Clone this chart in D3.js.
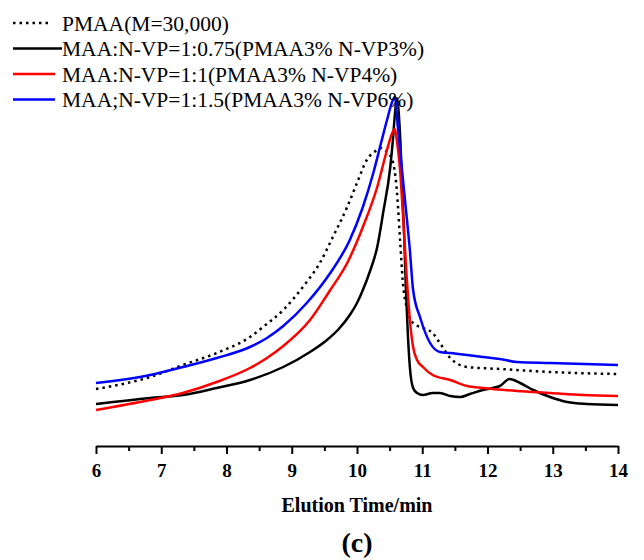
<!DOCTYPE html>
<html>
<head>
<meta charset="utf-8">
<script src="https://cdn.jsdelivr.net/npm/d3@7"></script>
<style>
  body { margin: 0; background: #fff; }
  svg { display: block; }
</style>
</head>
<body>
<svg id="chart"></svg>
<script>
// elution time (min) and detector response (arbitrary units)
var pmaaT = [6.00, 6.83, 7.33, 7.85, 8.36, 8.56, 8.87, 9.17, 9.43, 9.63, 9.85, 10.00, 10.15, 10.31, 10.37, 10.43, 10.54, 10.61, 10.66, 10.70, 10.77, 10.86, 11.01, 11.16, 11.27, 11.43, 11.69, 12.19, 12.96, 14.00];
var pmaaV = [57, 69, 81, 93, 109, 119, 136, 159, 183, 209, 239, 263, 286, 296, 298, 296, 286, 256, 206, 166, 136, 123, 118, 113, 103, 88, 79, 77, 74, 72];

var blackT = [6.00, 6.83, 7.33, 7.85, 8.36, 8.87, 9.28, 9.54, 9.72, 9.89, 10.00, 10.09, 10.20, 10.31, 10.40, 10.51, 10.55, 10.58, 10.61, 10.66, 10.70, 10.72, 10.75, 10.78, 10.81, 10.86, 10.92, 11.01, 11.16, 11.27, 11.43, 11.58, 11.73, 11.93, 12.08, 12.19, 12.34, 12.50, 12.70, 12.96, 13.22, 13.52, 14.00];
var blackV = [42, 48, 51, 58, 66, 79, 94, 106, 117, 131, 143, 156, 175, 199, 233, 279, 306, 331, 348, 311, 246, 216, 156, 111, 79, 58, 53, 51, 53, 53, 50, 49, 52, 56, 58, 60, 67, 63, 56, 49, 44, 42, 41];

var redT = [6.00, 6.83, 7.33, 7.85, 8.36, 8.62, 8.87, 9.28, 9.59, 9.85, 10.09, 10.31, 10.46, 10.54, 10.58, 10.61, 10.66, 10.70, 10.75, 10.81, 10.86, 10.92, 11.01, 11.16, 11.43, 11.69, 11.93, 12.45, 12.96, 13.46, 14.00];
var redV = [36, 46, 53, 64, 78, 88, 100, 126, 156, 183, 219, 259, 296, 313, 317, 306, 276, 236, 181, 126, 99, 86, 79, 71, 66, 60, 58, 55, 53, 51, 50];

var blueT = [6.00, 6.83, 7.33, 7.85, 8.36, 8.62, 8.87, 9.23, 9.59, 9.89, 10.09, 10.25, 10.38, 10.46, 10.55, 10.58, 10.63, 10.69, 10.74, 10.81, 10.86, 10.97, 11.12, 11.27, 11.43, 11.69, 11.93, 12.19, 12.45, 12.96, 14.00];
var blueV = [63, 71, 79, 88, 99, 108, 120, 143, 173, 206, 239, 273, 306, 326, 346, 349, 316, 276, 243, 196, 156, 128, 103, 94, 93, 91, 89, 87, 84, 83, 81];

var seriesNames = [
  "PMAA(M=30,000)",
  "MAA:N-VP=1:0.75(PMAA3% N-VP3%)",
  "MAA:N-VP=1:1(PMAA3% N-VP4%)",
  "MAA;N-VP=1:1.5(PMAA3% N-VP6%)"
];
var majorTicks = [6, 7, 8, 9, 10, 11, 12, 13, 14];
var minorTicks = [6.5, 7.5, 8.5, 9.5, 10.5, 11.5, 12.5, 13.5];

var serif = "Liberation Serif";
var width = 644, height = 560;
var svg = d3.select("#chart").attr("width", width).attr("height", height);

var x = d3.scaleLinear().domain([6, 14]).range([96, 618]);
var y = d3.scaleLinear().domain([0, 350]).range([446, 96]);

function zip(ts, vs) {
  return ts.map(function(t, i) { return {t: t, v: vs[i]}; });
}

var series = [
  {name: seriesNames[0], data: zip(pmaaT, pmaaV), color: "#000", dash: "2.5 4"},
  {name: seriesNames[1], data: zip(blackT, blackV), color: "#000", dash: null},
  {name: seriesNames[2], data: zip(redT, redV), color: "#ff0000", dash: null},
  {name: seriesNames[3], data: zip(blueT, blueV), color: "#0000ff", dash: null}
];

var line = d3.line()
  .x(function(d) { return x(d.t); })
  .y(function(d) { return y(d.v); })
  .curve(d3.curveMonotoneX);

// x axis, major then minor ticks
var gx = svg.append("g").attr("transform", "translate(0," + y(0) + ")");
gx.call(d3.axisBottom(x).tickValues(majorTicks).tickSize(8).tickSizeOuter(0).tickPadding(10));
gx.attr("font-family", null).attr("font-size", null);
gx.select(".domain").attr("stroke-width", 2.2);
gx.selectAll(".tick line").attr("stroke-width", 2);
gx.selectAll(".tick text")
  .attr("font-family", serif)
  .attr("font-size", 19)
  .attr("font-weight", "bold");

var gm = svg.append("g").attr("transform", "translate(0," + y(0) + ")");
gm.call(d3.axisBottom(x).tickValues(minorTicks).tickSize(5).tickFormat(""));
gm.select(".domain").remove();
gm.selectAll(".tick line").attr("stroke-width", 2);

svg.append("text")
  .attr("x", (x(6) + x(14)) / 2)
  .attr("y", 512)
  .attr("text-anchor", "middle")
  .attr("font-family", serif)
  .attr("font-weight", "bold")
  .attr("font-size", 20)
  .text("Elution Time/min");

svg.append("text")
  .attr("x", (x(6) + x(14)) / 2)
  .attr("y", 552)
  .attr("text-anchor", "middle")
  .attr("font-family", serif)
  .attr("font-weight", "bold")
  .attr("font-size", 28)
  .text("(c)");

// curves
svg.append("g")
  .selectAll("path")
  .data(series)
  .enter().append("path")
    .attr("d", function(d) { return line(d.data); })
    .attr("fill", "none")
    .attr("stroke", function(d) { return d.color; })
    .attr("stroke-width", 2.5)
    .attr("stroke-dasharray", function(d) { return d.dash; });

// legend
var rows = svg.append("g")
  .selectAll("g")
  .data(series)
  .enter().append("g")
    .attr("transform", function(d, i) { return "translate(0," + (23 + i * 25.5) + ")"; });

rows.append("line")
  .attr("x1", 13)
  .attr("x2", function(d, i) { return i == 1 ? 62 : (i == 0 ? 52 : 55); })
  .attr("stroke", function(d) { return d.color; })
  .attr("stroke-width", 2.5)
  .attr("stroke-dasharray", function(d) { return d.dash; });

rows.append("text")
  .attr("x", 62)
  .attr("dy", "0.35em")
  .attr("font-family", serif)
  .attr("font-size", 21.5)
  .text(function(d) { return d.name; });
</script>
</body>
</html>
